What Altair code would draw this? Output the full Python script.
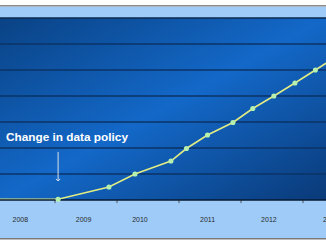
import altair as alt
import pandas as pd

# ---- data ----
point_years = [2009.05, 2009.87, 2010.29, 2010.87, 2011.12, 2011.46, 2011.87,
               2012.19, 2012.53, 2012.87, 2013.20, 2013.53]
point_values = [0.03, 0.50, 1.00, 1.50, 1.98, 2.50, 2.98, 3.52, 4.00, 4.50, 5.00, 5.50]
line_start_year = 2008.11
line_start_value = 0.03
year_labels = ["2008", "2009", "2010", "2011", "2012", "2013"]
year_label_pos = [2008.44, 2009.46, 2010.37, 2011.46, 2012.45, 2013.45]
tick_years = [2009, 2010, 2011, 2012, 2013]
grid_values = [1, 2, 3, 4, 5, 6]
annotation_text = "Change in data policy"
annotation_year = 2008.21
annotation_value = 2.27
arrow_year = 2009.05
arrow_top = 1.85
arrow_bottom = 0.73

W, H = 326, 245
xs = alt.Scale(domain=[2009 - 55 / 62, 2009 + 271 / 62], nice=False, zero=False)
ys = alt.Scale(domain=[-45 / 26, 200 / 26], nice=False, zero=False)
PLOT_TOP = 7.0
BAND_TOP = 7.44
BAND_BOTTOM = -1.46


def band(y0, y1, color):
    return alt.Chart(pd.DataFrame({"y": [y0], "y2": [y1]})).mark_rect(color=color).encode(
        x=alt.value(0), x2=alt.value(W),
        y=alt.Y("y:Q", scale=ys, axis=None), y2="y2:Q")


def hline(vals, color, width):
    return alt.Chart(pd.DataFrame({"y": vals})).mark_rule(color=color, strokeWidth=width).encode(
        x=alt.value(0), x2=alt.value(W),
        y=alt.Y("y:Q", scale=ys, axis=None))


top_band = band(PLOT_TOP, BAND_TOP, "#9ecbf8")
bottom_band = band(BAND_BOTTOM, 0, "#9ecbf8")
top_grey = hline([BAND_TOP + 0.03], "#8a8a8a", 1.5)
bottom_grey = hline([BAND_BOTTOM - 0.03], "#7a7a7a", 1.5)

plot_bg = alt.Chart(pd.DataFrame({"y": [0], "y2": [PLOT_TOP]})).mark_rect(
    color=alt.Gradient(
        gradient="linear",
        stops=[alt.GradientStop(color="#0a4284", offset=0),
               alt.GradientStop(color="#1368c8", offset=0.5),
               alt.GradientStop(color="#0a3a78", offset=1)],
        x1=0, y1=0, x2=1, y2=1)
).encode(x=alt.value(0), x2=alt.value(W),
         y=alt.Y("y:Q", scale=ys, axis=None), y2="y2:Q")

grid = hline(grid_values, "#0b3366", 1.3)
top_edge = hline([PLOT_TOP], "#0a2a52", 1.4)
bottom_edge = hline([0], "#061a33", 1.6)

ticks = alt.Chart(pd.DataFrame({"t": tick_years, "y": [0] * 5, "y2": [-0.12] * 5})).mark_rule(
    color="#555555", strokeWidth=1).encode(
    x=alt.X("t:Q", scale=xs, axis=None),
    y=alt.Y("y:Q", scale=ys, axis=None), y2="y2:Q")

labels = alt.Chart(pd.DataFrame({"t": year_label_pos, "lab": year_labels, "y": [-0.77] * 6})).mark_text(
    fontSize=7, color="#2a2a2a", font="Liberation Sans", baseline="middle", align="center").encode(
    x=alt.X("t:Q", scale=xs, axis=None),
    y=alt.Y("y:Q", scale=ys, axis=None), text="lab:N")

line_df = pd.DataFrame({"t": [line_start_year] + point_years,
                        "v": [line_start_value] + point_values})
line = alt.Chart(line_df).mark_line(color="#e2ec84", strokeWidth=1.6, clip=True).encode(
    x=alt.X("t:Q", scale=xs, axis=None),
    y=alt.Y("v:Q", scale=ys, axis=None), order="t:Q")

pts = alt.Chart(pd.DataFrame({"t": point_years, "v": point_values})).mark_circle(
    size=26, color="#b6f0ae", opacity=1, clip=True).encode(
    x=alt.X("t:Q", scale=xs, axis=None),
    y=alt.Y("v:Q", scale=ys, axis=None))

ann = alt.Chart(pd.DataFrame({"t": [annotation_year], "v": [annotation_value], "s": [annotation_text]})).mark_text(
    fontSize=11.8, fontWeight="bold", color="#ffffff", font="Liberation Sans",
    align="left", baseline="alphabetic").encode(
    x=alt.X("t:Q", scale=xs, axis=None),
    y=alt.Y("v:Q", scale=ys, axis=None), text="s:N")

arrow = alt.Chart(pd.DataFrame({"t": [arrow_year], "v": [arrow_top], "v2": [arrow_bottom]})).mark_rule(
    color="#d8e2ee", strokeWidth=1).encode(
    x=alt.X("t:Q", scale=xs, axis=None),
    y=alt.Y("v:Q", scale=ys, axis=None), y2="v2:Q")

arrow_head = alt.Chart(pd.DataFrame({"t": [arrow_year], "v": [arrow_bottom]})).mark_point(
    shape="M-1,-1L0,0L1,-1", filled=False, size=18, color="#d8e2ee", strokeWidth=1, opacity=1).encode(
    x=alt.X("t:Q", scale=xs, axis=None),
    y=alt.Y("v:Q", scale=ys, axis=None))

chart = alt.layer(
    top_band, bottom_band, top_grey, bottom_grey, plot_bg, grid, top_edge,
    ticks, labels, line, bottom_edge, pts, arrow, arrow_head, ann
).properties(
    width=W, height=H, padding=0, autosize=alt.AutoSizeParams(type="none"),
    background="#ffffff"
).configure_view(stroke=None)

chart.save("out.html", embed_options={"renderer": "svg", "actions": False})
